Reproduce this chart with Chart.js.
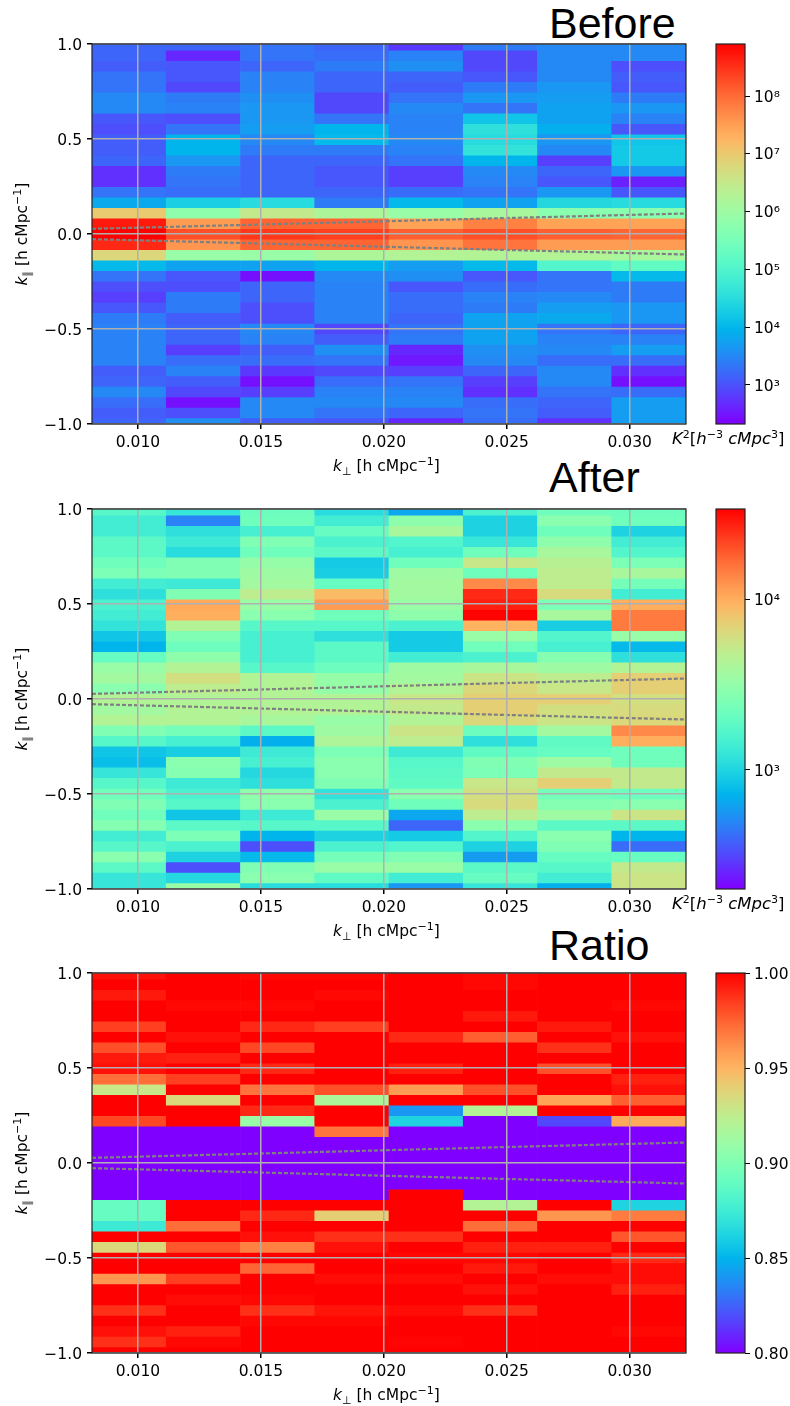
<!DOCTYPE html>
<html>
<head>
<meta charset="utf-8">
<title>Before / After / Ratio</title>
<script src="https://cdn.jsdelivr.net/npm/chart.js@4"></script>
<style>
html, body { margin: 0; padding: 0; background: #fff; }
body { position: relative; width: 790px; height: 1406px; overflow: hidden; font-family: "DejaVu Sans", sans-serif; color: #000; }
canvas { position: absolute; }
.title { position: absolute; font-family: "Liberation Sans", sans-serif; font-size: 43px; line-height: 48px; left: 549px; }
.lab { position: absolute; font-size: 15.5px; line-height: 20px; white-space: nowrap; }
.lab sup, .lab sub { font-size: 11px; line-height: 0; }
.xlab { left: 333px; }
.ylab { left: 22px; transform: translate(-50%, -50%) rotate(-90deg); }
.cblab { left: 672px; font-size: 16.5px; }
</style>
</head>
<body>
<div class="title" style="top:-1px">Before</div>
<div class="title" style="top:453px">After</div>
<div class="title" style="top:921px">Ratio</div>

<canvas id="before" width="700" height="464" style="left:0;top:0"></canvas>
<canvas id="beforeBar" width="90" height="464" style="left:700px;top:0"></canvas>
<canvas id="after" width="700" height="464" style="left:0;top:465px"></canvas>
<canvas id="afterBar" width="90" height="464" style="left:700px;top:465px"></canvas>
<canvas id="ratio" width="700" height="464" style="left:0;top:929px"></canvas>
<canvas id="ratioBar" width="90" height="464" style="left:700px;top:929px"></canvas>

<div class="lab xlab" style="top:456px"><i>k</i><sub>⊥</sub> [h cMpc<sup>−1</sup>]</div>
<div class="lab xlab" style="top:921px"><i>k</i><sub>⊥</sub> [h cMpc<sup>−1</sup>]</div>
<div class="lab xlab" style="top:1385px"><i>k</i><sub>⊥</sub> [h cMpc<sup>−1</sup>]</div>
<div class="lab ylab" style="top:234px"><i>k</i><sub>∥</sub> [h cMpc<sup>−1</sup>]</div>
<div class="lab ylab" style="top:699px"><i>k</i><sub>∥</sub> [h cMpc<sup>−1</sup>]</div>
<div class="lab ylab" style="top:1163px"><i>k</i><sub>∥</sub> [h cMpc<sup>−1</sup>]</div>
<div class="lab cblab" style="top:429px"><i>K</i><sup>2</sup>[<i>h</i><sup>−3</sup> <i>cMpc</i><sup>3</sup>]</div>
<div class="lab cblab" style="top:894px"><i>K</i><sup>2</sup>[<i>h</i><sup>−3</sup> <i>cMpc</i><sup>3</sup>]</div>

<script>
// column centres in k_perp, and the axis range they fill
const kPerp = [0.00964, 0.01266, 0.01568, 0.0187, 0.02172, 0.02474, 0.02776, 0.03078];
const kPerpMin = 0.00813;
const kPerpMax = 0.03229;
const kPerpTicks = [0.010, 0.015, 0.020, 0.025, 0.030];
const kParaTicks = [-1, -0.5, 0, 0.5, 1];

// row edges in k_para, top to bottom (top and bottom rows are cut by the axis)
const kParaEdges = [1, 0.9677, 0.9124, 0.8571, 0.8018, 0.7465, 0.6912, 0.6359, 0.5806, 0.5253, 0.47, 0.4147, 0.3594,
    0.3041, 0.2488, 0.1935, 0.1382, 0.0829, 0.0276, -0.0276, -0.0829, -0.1382, -0.1935, -0.2488, -0.3041, -0.3594,
    -0.4147, -0.47, -0.5253, -0.5806, -0.6359, -0.6912, -0.7465, -0.8018, -0.8571, -0.9124, -0.9677, -1];

// foreground wedge
const wedgeX = [0.00813, 0.015, 0.02, 0.025, 0.03229];
const wedgeUpper = [0.027, 0.05, 0.067, 0.084, 0.108];
const wedgeLower = [-0.027, -0.05, -0.067, -0.084, -0.108];

// log10 of power, one row per k_para bin
const beforeLog = [
    [3.18, 3.18, 3.31, 3.18, 2.79, 3.38, 3.51, 3.51],
    [3.18, 2.65, 3.31, 3.25, 3.44, 2.92, 3.51, 3.51],
    [3.11, 3.05, 3.18, 3.38, 3.57, 2.92, 3.51, 2.98],
    [3.31, 3.05, 3.44, 3.18, 3.18, 3.05, 3.51, 3.11],
    [3.31, 2.92, 3.44, 3.18, 3.11, 3.38, 3.64, 3.05],
    [3.51, 3.38, 3.57, 2.92, 3.31, 3.64, 3.71, 3.38],
    [3.51, 3.44, 3.64, 2.92, 3.51, 3.31, 3.77, 3.64],
    [3.05, 2.98, 3.64, 3.31, 3.44, 4.17, 3.77, 3.44],
    [2.98, 3.31, 3.71, 3.97, 3.44, 4.56, 3.90, 3.05],
    [3.11, 3.97, 3.51, 4.03, 3.51, 4.49, 3.64, 4.17],
    [3.11, 3.97, 3.38, 3.38, 3.44, 4.63, 3.51, 4.23],
    [3.18, 3.64, 3.18, 3.18, 3.31, 3.97, 2.85, 4.23],
    [2.72, 3.38, 3.18, 3.05, 2.85, 3.51, 3.18, 3.64],
    [2.72, 3.31, 3.18, 3.05, 2.85, 3.44, 3.05, 2.59],
    [3.31, 3.25, 3.18, 3.18, 3.25, 3.31, 3.64, 3.05],
    [3.84, 4.30, 4.49, 3.38, 4.03, 3.77, 4.43, 4.49],
    [6.99, 5.81, 6.47, 6.20, 5.94, 6.14, 5.74, 5.74],
    [8.70, 7.52, 8.05, 8.05, 7.45, 7.78, 7.45, 7.45],
    [8.90, 8.24, 8.44, 8.37, 8.11, 8.24, 8.11, 8.05],
    [8.57, 7.59, 8.05, 8.05, 7.59, 7.91, 7.52, 7.52],
    [6.80, 5.94, 5.94, 6.20, 6.27, 6.27, 6.27, 6.14],
    [4.03, 3.77, 3.77, 3.97, 3.71, 4.03, 5.02, 5.22],
    [3.31, 3.05, 2.46, 3.51, 3.57, 3.05, 3.31, 4.03],
    [2.98, 2.98, 3.18, 3.44, 3.05, 3.25, 3.31, 3.38],
    [2.85, 3.38, 3.18, 3.44, 3.25, 3.44, 3.51, 3.38],
    [3.05, 3.38, 2.98, 3.44, 3.25, 3.38, 3.71, 3.64],
    [3.38, 3.11, 2.98, 3.44, 3.18, 3.77, 3.84, 3.64],
    [3.44, 3.18, 3.51, 2.92, 3.31, 3.77, 3.31, 3.18],
    [3.44, 3.18, 3.44, 3.11, 3.38, 3.77, 3.44, 3.44],
    [3.44, 2.85, 3.11, 3.57, 2.65, 3.57, 3.51, 3.71],
    [3.44, 3.25, 3.25, 3.31, 2.52, 3.51, 3.25, 3.25],
    [3.11, 3.44, 2.79, 2.92, 2.85, 3.18, 3.51, 2.72],
    [3.18, 3.11, 2.46, 3.25, 3.31, 2.85, 3.51, 2.46],
    [3.51, 2.92, 2.85, 3.44, 3.44, 2.72, 3.31, 3.25],
    [3.25, 2.46, 3.51, 3.51, 3.51, 3.25, 3.18, 3.71],
    [3.11, 2.98, 3.51, 3.31, 3.18, 3.31, 3.11, 3.71],
    [3.18, 3.57, 3.11, 3.05, 2.65, 3.25, 2.72, 3.71]
];

const afterLog = [
    [3.24, 3.10, 3.33, 3.04, 2.81, 3.19, 3.35, 3.33],
    [3.15, 2.68, 3.35, 3.15, 3.48, 2.99, 3.46, 3.35],
    [3.15, 3.06, 3.17, 3.31, 3.60, 2.99, 3.35, 2.99],
    [3.26, 3.13, 3.42, 3.19, 3.22, 3.10, 3.48, 3.15],
    [3.26, 3.04, 3.35, 3.26, 3.17, 3.35, 3.60, 3.22],
    [3.35, 3.42, 3.51, 2.95, 3.35, 3.73, 3.66, 3.40],
    [3.40, 3.42, 3.55, 2.97, 3.55, 3.35, 3.69, 3.60],
    [3.15, 3.13, 3.57, 3.31, 3.57, 4.13, 3.69, 3.37],
    [3.06, 3.42, 3.69, 3.95, 3.57, 4.42, 3.80, 3.15],
    [3.19, 4.02, 3.53, 4.07, 3.53, 4.45, 3.40, 4.00],
    [3.15, 4.00, 3.46, 3.35, 3.48, 4.53, 3.60, 4.18],
    [3.08, 3.64, 3.24, 3.24, 3.19, 3.98, 2.97, 4.18],
    [2.93, 3.42, 3.17, 3.06, 2.95, 3.53, 3.22, 3.53],
    [2.86, 3.33, 3.17, 3.26, 2.95, 3.35, 3.17, 2.88],
    [3.31, 3.48, 3.17, 3.26, 3.15, 3.19, 3.44, 3.06],
    [3.53, 3.64, 3.24, 3.33, 3.55, 3.60, 3.55, 3.64],
    [3.57, 3.78, 3.64, 3.51, 3.57, 3.75, 3.69, 3.86],
    [3.46, 3.69, 3.64, 3.51, 3.64, 3.82, 3.73, 3.86],
    [3.64, 3.64, 3.64, 3.64, 3.73, 3.86, 3.86, 3.78],
    [3.57, 3.64, 3.64, 3.64, 3.71, 3.86, 3.78, 3.80],
    [3.64, 3.64, 3.60, 3.53, 3.64, 3.82, 3.75, 3.82],
    [3.42, 3.37, 3.26, 3.55, 3.75, 3.33, 3.57, 4.13],
    [3.24, 3.17, 2.84, 3.62, 3.69, 3.06, 3.28, 4.00],
    [2.93, 2.97, 3.13, 3.40, 3.13, 3.28, 3.31, 3.35],
    [2.90, 3.46, 3.17, 3.46, 3.24, 3.42, 3.55, 3.35],
    [3.10, 3.44, 3.02, 3.46, 3.26, 3.40, 3.71, 3.71],
    [3.24, 3.13, 3.06, 3.42, 3.28, 3.73, 3.86, 3.71],
    [3.35, 3.19, 3.48, 3.08, 3.46, 3.78, 3.37, 3.33],
    [3.42, 3.24, 3.46, 3.19, 3.35, 3.80, 3.44, 3.46],
    [3.35, 2.93, 3.13, 3.53, 2.81, 3.69, 3.55, 3.75],
    [3.44, 3.26, 3.24, 3.24, 2.59, 3.46, 3.26, 3.26],
    [3.15, 3.40, 2.86, 2.99, 2.95, 3.22, 3.46, 2.86],
    [3.24, 3.19, 2.52, 3.19, 3.22, 2.99, 3.42, 2.61],
    [3.46, 2.99, 2.88, 3.37, 3.42, 2.77, 3.31, 3.31],
    [3.26, 2.52, 3.42, 3.53, 3.53, 3.26, 3.24, 3.71],
    [3.10, 3.02, 3.46, 3.28, 3.15, 3.31, 3.15, 3.75],
    [3.10, 3.53, 3.04, 3.04, 2.75, 3.10, 2.84, 3.75]
];

// ratio after/before (the wedge rows sit at or below the bottom of the colour range)
const ratioVals = [
    [0.996, 1, 0.998, 0.998, 1, 0.998, 1, 1],
    [1, 1, 1, 1, 1, 0.998, 1, 1],
    [0.994, 1, 1, 0.998, 1, 1, 1, 1],
    [1, 0.998, 0.998, 1, 1, 1, 1, 0.998],
    [1, 1, 1, 1, 1, 0.994, 1, 1],
    [0.984, 1, 0.99, 0.984, 1, 1, 0.994, 1],
    [1, 0.996, 1, 1, 0.99, 0.976, 1, 0.996],
    [0.98, 1, 0.982, 1, 1, 1, 0.988, 1],
    [0.994, 0.992, 1, 1, 1, 1, 1, 1],
    [0.996, 1, 0.99, 1, 0.992, 1, 0.98, 1],
    [0.972, 0.984, 1, 1, 1, 1, 1, 0.992],
    [0.928, 1, 0.97, 0.98, 0.958, 0.98, 1, 0.996],
    [1, 0.936, 1, 0.918, 1, 1, 0.956, 0.976],
    [1, 1, 0.99, 1, 0.84, 0.92, 1, 1],
    [0.982, 1, 0.91, 1, 0.862, 0.8, 0.818, 0.954],
    [0.8, 0.8, 0.8, 0.97, 0.8, 0.8, 0.8, 0.8],
    [0.8, 0.8, 0.8, 0.8, 0.8, 0.8, 0.8, 0.8],
    [0.8, 0.8, 0.8, 0.8, 0.8, 0.8, 0.8, 0.8],
    [0.8, 0.8, 0.8, 0.8, 0.8, 0.8, 0.8, 0.8],
    [0.8, 0.8, 0.8, 0.8, 0.8, 0.8, 0.8, 0.8],
    [0.8, 0.8, 0.8, 0.8, 0.8, 0.8, 0.8, 0.8],
    [0.8, 0.8, 0.8, 0.8, 1, 0.8, 0.8, 0.8],
    [0.89, 1, 1, 1, 1, 0.92, 1, 0.862],
    [0.89, 1, 0.99, 0.94, 1, 1, 0.96, 0.968],
    [0.874, 0.972, 1, 1, 1, 0.972, 1, 1],
    [1, 1, 0.996, 0.988, 0.988, 1, 1, 0.978],
    [0.936, 0.978, 0.966, 0.996, 1, 0.992, 0.992, 1],
    [1, 1, 1, 1, 0.998, 0.998, 1, 0.99],
    [1, 1, 0.974, 1, 1, 0.994, 1, 0.997],
    [0.96, 0.984, 1, 0.997, 0.997, 1, 0.997, 0.997],
    [1, 1, 1, 1, 1, 0.996, 1, 0.992],
    [1, 0.997, 0.998, 1, 1, 1, 1, 1],
    [0.988, 1, 0.988, 0.995, 0.997, 0.988, 1, 1],
    [1, 1, 0.998, 0.998, 1, 1, 1, 1],
    [0.996, 0.992, 1, 1, 1, 1, 1, 0.998],
    [0.988, 0.998, 1, 1, 0.999, 1, 1, 1],
    [1, 1, 1, 1, 1, 1, 1, 1]
];

// colour ranges and colourbar ticks
const beforeLogRange = [2.325, 8.9];
const afterLogRange = [2.3, 4.535];
const ratioRange = [0.8, 1];
const beforeCbTicks = [1e3, 1e4, 1e5, 1e6, 1e7, 1e8];
const afterCbTicks = [1e3, 1e4];
const ratioCbTicks = [0.8, 0.85, 0.9, 0.95, 1];

const FONT = { family: '"DejaVu Sans", sans-serif', size: 15.5 };
const SUPER = { '0': '⁰', '1': '¹', '2': '²', '3': '³', '4': '⁴', '5': '⁵', '6': '⁶', '7': '⁷', '8': '⁸', '9': '⁹' };

// matplotlib "rainbow"
function rainbow(t) {
    t = Math.max(0, Math.min(1, t));
    const r = Math.abs(2 * t - 0.5);
    const g = Math.sin(Math.PI * t);
    const b = Math.cos(Math.PI * t / 2);
    return `rgb(${Math.round(Math.min(r, 1) * 255)},${Math.round(g * 255)},${Math.round(b * 255)})`;
}

const framePlugin = {
    id: 'frame',
    afterDraw(chart) {
        const a = chart.chartArea;
        const ctx = chart.ctx;
        ctx.save();
        ctx.strokeStyle = '#222';
        ctx.lineWidth = 1.2;
        ctx.strokeRect(a.left, a.top, a.right - a.left, a.bottom - a.top);
        ctx.restore();
    }
};

function heatmap(id, rows, range) {
    const datasets = rows.map((row, i) => ({
        type: 'bar',
        order: 2,
        data: row.map((v, j) => ({ x: kPerp[j], y: [kParaEdges[i + 1], kParaEdges[i]] })),
        backgroundColor: row.map(v => rainbow((v - range[0]) / (range[1] - range[0]))),
        borderWidth: 0,
        barPercentage: 1,
        categoryPercentage: 1,
        grouped: false
    }));
    [wedgeUpper, wedgeLower].forEach(w => {
        datasets.push({
            type: 'line',
            order: 1,
            data: w.map((v, j) => ({ x: wedgeX[j], y: v })),
            borderColor: '#808080',
            borderWidth: 2.2,
            borderDash: [4, 2],
            pointRadius: 0,
            tension: 0
        });
    });
    return new Chart(document.getElementById(id), {
        type: 'bar',
        data: { datasets },
        plugins: [framePlugin],
        options: {
            responsive: false,
            animation: false,
            layout: { padding: { top: 44, left: 0, right: 14, bottom: 0 } },
            plugins: { legend: { display: false }, tooltip: { enabled: false } },
            scales: {
                x: {
                    type: 'linear',
                    offset: false,
                    min: kPerpMin,
                    max: kPerpMax,
                    afterBuildTicks: s => { s.ticks = kPerpTicks.map(value => ({ value })); },
                    afterFit: s => { s.height = 40; },
                    ticks: { font: FONT, color: '#000', maxRotation: 0, padding: 5, callback: v => v.toFixed(3) },
                    grid: { offset: false, color: '#b0b0b0', lineWidth: 1.5, z: 1, tickColor: '#000', tickLength: 5 },
                    border: { display: false }
                },
                y: {
                    min: -1,
                    max: 1,
                    afterBuildTicks: s => { s.ticks = kParaTicks.map(value => ({ value })); },
                    afterFit: s => { s.width = 92; },
                    ticks: { font: FONT, color: '#000', padding: 5, labelOffset: 1.5, callback: v => v.toFixed(1).replace('-', '−') },
                    grid: { color: '#b0b0b0', lineWidth: 1.5, z: 1, tickColor: '#000', tickLength: 5 },
                    border: { display: false }
                }
            }
        }
    });
}

function colourbar(id, yType, lo, hi, ticks, label) {
    return new Chart(document.getElementById(id), {
        type: 'bar',
        data: {
            labels: ['scale'],
            datasets: [{
                data: [[lo, hi]],
                borderWidth: 0,
                barPercentage: 1,
                categoryPercentage: 1,
                backgroundColor: ctx => {
                    const a = ctx.chart.chartArea;
                    if (!a) return '#000';
                    const g = ctx.chart.ctx.createLinearGradient(0, a.bottom, 0, a.top);
                    for (let i = 0; i <= 40; i++) g.addColorStop(i / 40, rainbow(i / 40));
                    return g;
                }
            }]
        },
        plugins: [framePlugin],
        options: {
            responsive: false,
            animation: false,
            layout: { padding: { top: 44, left: 16, right: 0, bottom: 40 } },
            plugins: { legend: { display: false }, tooltip: { enabled: false } },
            scales: {
                x: { display: false },
                y: {
                    type: yType,
                    position: 'right',
                    min: lo,
                    max: hi,
                    afterBuildTicks: s => { s.ticks = ticks.map(value => ({ value })); },
                    afterFit: s => { s.width = 45; },
                    ticks: { font: FONT, color: '#000', padding: 4, labelOffset: 1.5, callback: label },
                    grid: { drawOnChartArea: false, tickColor: '#000', tickLength: 5 },
                    border: { display: false }
                }
            }
        }
    });
}

const powerLabel = v => '10' + String(Math.round(Math.log10(v))).split('').map(c => SUPER[c]).join('');

heatmap('before', beforeLog, beforeLogRange);
heatmap('after', afterLog, afterLogRange);
heatmap('ratio', ratioVals, ratioRange);
colourbar('beforeBar', 'logarithmic', 10 ** beforeLogRange[0], 10 ** beforeLogRange[1], beforeCbTicks, powerLabel);
colourbar('afterBar', 'logarithmic', 10 ** afterLogRange[0], 10 ** afterLogRange[1], afterCbTicks, powerLabel);
colourbar('ratioBar', 'linear', ratioRange[0], ratioRange[1], ratioCbTicks, v => v.toFixed(2));
</script>
</body>
</html>
